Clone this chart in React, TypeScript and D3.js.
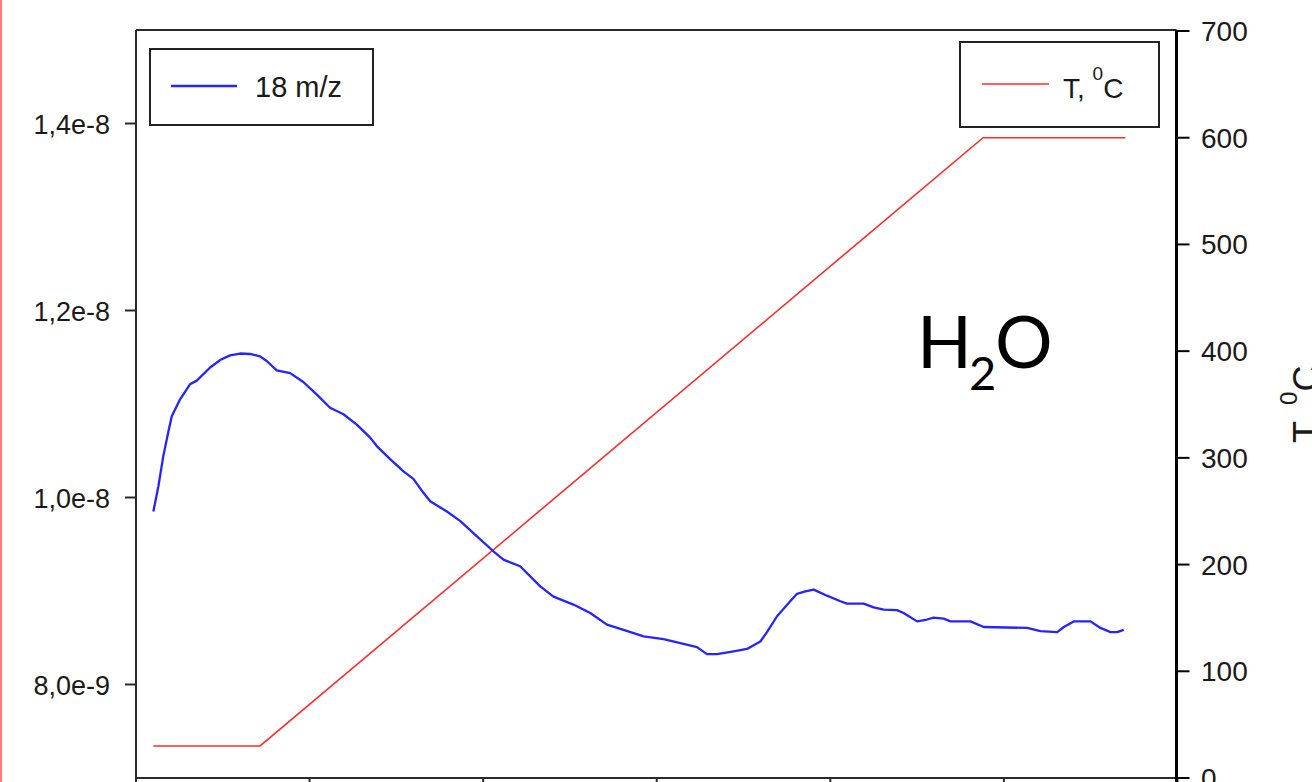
import React from "react";
import * as d3 from "d3";

// Time axis positions (min) and the 18 m/z ion current (A)
const timeMin = [
  1.0, 1.29, 1.57, 1.86, 2.06, 2.54, 3.11, 3.5, 4.27, 4.84, 5.42, 5.99, 6.57, 7.15, 7.53, 8.11,
  8.88, 9.64, 10.42, 11.18, 11.95, 12.72, 13.49, 13.87, 14.64, 15.41, 15.98, 16.56, 16.95, 17.91,
  18.67, 19.64, 20.59, 21.17, 22.13, 23.29, 24.05, 25.2, 26.17, 27.13, 28.09, 29.24, 30.39,
  31.54, 32.32, 32.89, 33.47, 34.43, 35.2, 35.97, 36.35, 36.93, 37.69, 38.08, 38.56, 39.04,
  39.81, 40.58, 40.96, 41.92, 42.5, 43.07, 43.84, 44.22, 45.0, 45.57, 45.95, 46.53, 46.92,
  48.07, 48.84, 51.34, 52.1, 53.07, 53.45, 54.02, 54.99, 55.56, 56.14, 56.52, 56.9,
];
const mz18 = [
  9.85e-9, 10.12e-9, 10.44e-9, 10.7e-9, 10.87e-9, 11.05e-9, 11.21e-9, 11.25e-9, 11.39e-9,
  11.47e-9, 11.52e-9, 11.54e-9, 11.535e-9, 11.51e-9, 11.46e-9, 11.36e-9, 11.33e-9, 11.235e-9,
  11.1e-9, 10.96e-9, 10.89e-9, 10.78e-9, 10.64e-9, 10.55e-9, 10.41e-9, 10.28e-9, 10.2e-9,
  10.05e-9, 9.96e-9, 9.85e-9, 9.75e-9, 9.585e-9, 9.425e-9, 9.335e-9, 9.265e-9, 9.05e-9,
  8.94e-9, 8.855e-9, 8.765e-9, 8.64e-9, 8.585e-9, 8.515e-9, 8.485e-9, 8.435e-9, 8.4e-9,
  8.325e-9, 8.325e-9, 8.355e-9, 8.38e-9, 8.46e-9, 8.56e-9, 8.73e-9, 8.89e-9, 8.97e-9,
  8.995e-9, 9.015e-9, 8.95e-9, 8.89e-9, 8.865e-9, 8.865e-9, 8.825e-9, 8.8e-9, 8.795e-9,
  8.765e-9, 8.675e-9, 8.695e-9, 8.715e-9, 8.705e-9, 8.675e-9, 8.675e-9, 8.615e-9, 8.605e-9,
  8.57e-9, 8.56e-9, 8.615e-9, 8.675e-9, 8.675e-9, 8.605e-9, 8.56e-9, 8.56e-9, 8.585e-9,
];

// Furnace program: hold, linear ramp, hold (°C)
const tempTime = [1.0, 7.15, 48.8, 57.0];
const tempC = [30, 30, 600, 600];

const timeTicks = [0, 10, 20, 30, 40, 50, 60];
const leftTickValues = [8e-9, 1e-8, 1.2e-8, 1.4e-8];
const leftTickLabels = ["8,0e-9", "1,0e-8", "1,2e-8", "1,4e-8"];
const rightTicks = [0, 100, 200, 300, 400, 500, 600, 700];

const W = 1312;
const H = 782;
const FONT = "'Liberation Sans', Arial, sans-serif";

export default function App() {
  const left = 136;
  const right = 1176.5;
  const top = 30;
  const bottom = 778;

  const x = d3.scaleLinear().domain([0, 60]).range([left, 1177.5]);
  const yL = d3.scaleLinear().domain([7e-9, 1.5e-8]).range([bottom, top]);
  const yR = d3.scaleLinear().domain([0, 700]).range([bottom, 31]);

  const mzLine = d3
    .line<number>()
    .x((_, i) => x(timeMin[i]))
    .y((d) => yL(d));
  const tLine = d3
    .line<number>()
    .x((_, i) => x(tempTime[i]))
    .y((d) => yR(d));

  const axisColor = "#2a2a2a";
  const textColor = "#1a1a1a";

  return (
    <div style={{ position: "absolute", left: 0, top: 0 }}>
      <svg width={W} height={H} style={{ display: "block", background: "#fff" }}>
        {/* slide border on the left edge */}
        <rect x={0} y={0} width={2} height={H} fill="#ff7a7a" />

        {/* frame: top and bottom lines, left axis */}
        <line x1={left} x2={right} y1={top} y2={top} stroke={axisColor} strokeWidth={2} />
        <line x1={left} x2={right} y1={bottom} y2={bottom} stroke={axisColor} strokeWidth={2} />
        <line x1={left} x2={left} y1={top} y2={bottom + 6} stroke={axisColor} strokeWidth={2} />

        {/* bottom ticks */}
        {timeTicks.map((t) => (
          <line key={"xt" + t} x1={x(t)} x2={x(t)} y1={bottom} y2={bottom + 12} stroke={axisColor} strokeWidth={2} />
        ))}

        {/* left axis ticks and labels */}
        {leftTickValues.map((v, i) => (
          <g key={"yl" + i}>
            <line x1={left - 11} x2={left} y1={yL(v)} y2={yL(v)} stroke={axisColor} strokeWidth={2} />
            <text x={110} y={yL(v) + 10} textAnchor="end" fontFamily={FONT} fontSize={27} fill={textColor}>
              {leftTickLabels[i]}
            </text>
          </g>
        ))}

        {/* right axis */}
        <line x1={right} x2={right} y1={top} y2={bottom + 6} stroke="#000" strokeWidth={3} />
        {rightTicks.map((v) => (
          <g key={"yr" + v}>
            <line x1={right} x2={right + 13} y1={yR(v)} y2={yR(v)} stroke="#000" strokeWidth={2} />
            <text x={1201} y={yR(v) + 10} fontFamily={FONT} fontSize={28} fill={textColor}>
              {v}
            </text>
          </g>
        ))}

        {/* right axis title */}
        <text
          transform="translate(1319,443) rotate(-90)"
          fontFamily={FONT}
          fontSize={36}
          fill={textColor}
        >
          T,{" "}
          <tspan fontSize={24} dy={-22}>
            0
          </tspan>
          <tspan fontSize={36} dy={22}>
            C
          </tspan>
        </text>

        {/* series */}
        <path d={tLine(tempC) || ""} fill="none" stroke="#ff2a2a" strokeWidth={1.6} />
        <path d={mzLine(mz18) || ""} fill="none" stroke="#2424ff" strokeWidth={2.3} strokeLinejoin="round" />

        {/* legend: 18 m/z */}
        <rect x={150} y={49} width={223} height={76} fill="none" stroke="#222" strokeWidth={2} />
        <line x1={171} x2={237} y1={86} y2={86} stroke="#2424ff" strokeWidth={2.3} />
        <text x={255} y={97} fontFamily={FONT} fontSize={29} fill={textColor}>
          18 m/z
        </text>

        {/* legend: temperature */}
        <rect x={960} y={42} width={199} height={85} fill="none" stroke="#222" strokeWidth={2} />
        <line x1={982} x2={1049} y1={84} y2={84} stroke="#ff2a2a" strokeWidth={1.6} />
        <text x={1063} y={98} fontFamily={FONT} fontSize={28} fill={textColor}>
          T,{" "}
          <tspan fontSize={19} dy={-18}>
            0
          </tspan>
          <tspan fontSize={28} dy={18}>
            C
          </tspan>
        </text>

        {/* species annotation */}
        <text y={368} fontFamily="Lato, 'Open Sans', sans-serif" fill="#000">
          <tspan x={917} fontSize={72}>
            H
          </tspan>
          <tspan x={969} dy={22} fontSize={47}>
            2
          </tspan>
          <tspan x={995} dy={-22} fontSize={72}>
            O
          </tspan>
        </text>
      </svg>
    </div>
  );
}
